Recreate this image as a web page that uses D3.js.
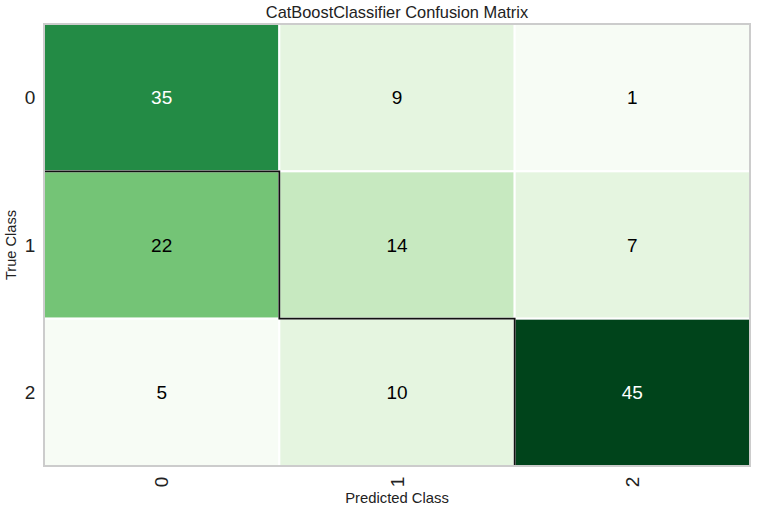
<!DOCTYPE html>
<html>
<head>
<meta charset="utf-8">
<script src="https://cdn.jsdelivr.net/npm/d3@7"></script>
<style>
  body { margin: 0; background: #fff; }
  text { font-family: "Liberation Sans", Arial, sans-serif; }
</style>
</head>
<body>
<svg id="chart" width="762" height="513"></svg>
<script>
var classes = ['0', '1', '2'];
var matrix = [
    [35, 9, 1],
    [22, 14, 7],
    [5, 10, 45]
];
var greens = ['#f7fcf5', '#e5f5e0', '#c7e9c0', '#a1d99b', '#74c476', '#41ab5d', '#238b45', '#006d2c', '#00441b'];

var margin = { left: 44, top: 24, right: 12, bottom: 47 };
var width = 762 - margin.left - margin.right;
var height = 513 - margin.top - margin.bottom;

var svg = d3.select('#chart');
var g = svg.append('g').attr('transform', `translate(${margin.left},${margin.top})`);

var x = d3.scaleBand().domain(classes).range([0, width]);
var y = d3.scaleBand().domain(classes).range([0, height]);
var color = d3.scaleQuantize().domain([1, 46]).range(greens);

var cells = [];
matrix.forEach((row, i) => {
    row.forEach((v, j) => {
        cells.push({ t: classes[i], p: classes[j], v: v });
    });
});

g.selectAll('rect.cell')
    .data(cells)
    .enter().append('rect')
    .attr('class', 'cell')
    .attr('x', d => x(d.p))
    .attr('y', d => y(d.t))
    .attr('width', x.bandwidth())
    .attr('height', y.bandwidth())
    .attr('fill', d => color(d.v))
    .attr('stroke', '#fff')
    .attr('stroke-width', 2);

// staircase outline along the diagonal
var stair = [];
classes.forEach((c, i) => {
    if (i === 0) return;
    stair.push([x(classes[i - 1]), y(c)]);
    stair.push([x(c), y(c)]);
    stair.push([x(c), y(c) + y.bandwidth()]);
});
g.append('path')
    .attr('d', d3.line()(stair))
    .attr('fill', 'none')
    .attr('stroke', '#111')
    .attr('stroke-width', 1.8);

g.selectAll('text.val')
    .data(cells)
    .enter().append('text')
    .attr('class', 'val')
    .attr('x', d => x(d.p) + x.bandwidth() / 2)
    .attr('y', d => y(d.t) + y.bandwidth() / 2)
    .attr('text-anchor', 'middle')
    .attr('dominant-baseline', 'central')
    .attr('font-size', 19)
    .attr('fill', d => d.v >= 30 ? '#fff' : '#000')
    .text(d => d.v);

// frame
g.append('rect')
    .attr('x', 0).attr('y', 0)
    .attr('width', width).attr('height', height)
    .attr('fill', 'none')
    .attr('stroke', '#cccccc')
    .attr('stroke-width', 2);

g.selectAll('text.ytick')
    .data(classes)
    .enter().append('text')
    .attr('class', 'ytick')
    .attr('x', -14)
    .attr('y', d => y(d) + y.bandwidth() / 2)
    .attr('text-anchor', 'middle')
    .attr('dominant-baseline', 'central')
    .attr('font-size', 19)
    .attr('fill', '#222')
    .text(d => d);

g.selectAll('text.xtick')
    .data(classes)
    .enter().append('text')
    .attr('class', 'xtick')
    .attr('transform', d => `translate(${x(d) + x.bandwidth() / 2},${height + 16}) rotate(-90)`)
    .attr('text-anchor', 'middle')
    .attr('dominant-baseline', 'central')
    .attr('font-size', 19)
    .attr('fill', '#222')
    .text(d => d);

svg.append('text')
    .attr('x', margin.left + width / 2)
    .attr('y', 12)
    .attr('text-anchor', 'middle')
    .attr('dominant-baseline', 'central')
    .attr('font-size', 16.4)
    .attr('fill', '#222')
    .text('CatBoostClassifier Confusion Matrix');

svg.append('text')
    .attr('x', margin.left + width / 2)
    .attr('y', 498)
    .attr('text-anchor', 'middle')
    .attr('dominant-baseline', 'central')
    .attr('font-size', 14.8)
    .attr('fill', '#222')
    .text('Predicted Class');

svg.append('text')
    .attr('transform', `translate(11,${margin.top + height / 2}) rotate(-90)`)
    .attr('text-anchor', 'middle')
    .attr('dominant-baseline', 'central')
    .attr('font-size', 14.6)
    .attr('fill', '#222')
    .text('True Class');
</script>
</body>
</html>
